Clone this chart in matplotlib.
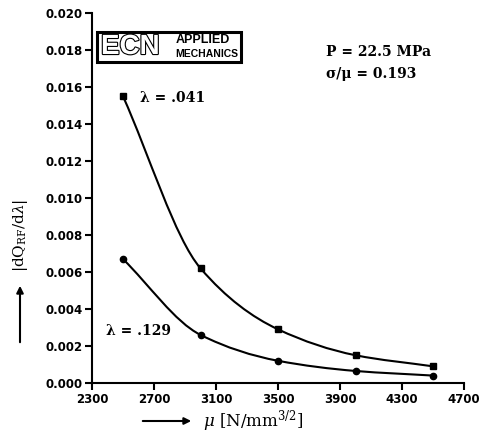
import numpy as np
import matplotlib
matplotlib.use("Agg")
import matplotlib.pyplot as plt
from matplotlib.path import Path
from matplotlib.patches import PathPatch, Rectangle, FancyArrowPatch
import matplotlib.patheffects as pe

# values
mu = [2500, 3000, 3500, 4000, 4500]
dq_041 = [0.0155, 0.0062, 0.0029, 0.0015, 0.0009]
dq_129 = [0.0067, 0.0026, 0.0012, 0.00065, 0.0004]
xticks = [2300, 2700, 3100, 3500, 3900, 4300, 4700]
yticks = [0.000, 0.002, 0.004, 0.006, 0.008, 0.010, 0.012, 0.014, 0.016, 0.018, 0.020]

plt.rcParams['mathtext.fontset'] = 'dejavuserif'
serif = 'DejaVu Serif'
sans = 'Liberation Sans'


def smooth_path(x, y):
    # monotone cubic (Fritsch-Carlson) drawn as bezier segments
    x = np.asarray(x, float)
    y = np.asarray(y, float)
    h = np.diff(x)
    d = np.diff(y) / h
    m = np.zeros_like(y)
    m[0] = d[0]
    m[-1] = d[-1]
    for i in range(1, len(x) - 1):
        if d[i - 1] * d[i] > 0:
            m[i] = 2.0 / (1.0 / d[i - 1] + 1.0 / d[i])
    verts = [(x[0], y[0])]
    codes = [Path.MOVETO]
    for i in range(len(h)):
        verts += [(x[i] + h[i] / 3, y[i] + m[i] * h[i] / 3),
                  (x[i + 1] - h[i] / 3, y[i + 1] - m[i + 1] * h[i] / 3),
                  (x[i + 1], y[i + 1])]
        codes += [Path.CURVE4] * 3
    return Path(verts, codes)


fig = plt.figure(figsize=(4.88, 4.36), dpi=100)
ax = fig.add_axes([0.1885, 0.1216, 0.7625, 0.8484])

for vals, mk in [(dq_041, 's'), (dq_129, 'o')]:
    ax.add_patch(PathPatch(smooth_path(mu, vals), fill=False, lw=1.5, color='black'))
    ax.plot(mu, vals, ls='none', marker=mk, ms=4.5, color='black')

ax.set_xlim(2300, 4700)
ax.set_ylim(0, 0.020)
ax.set_xticks(xticks)
ax.set_yticks(yticks)
ax.set_xticklabels([str(t) for t in xticks], fontfamily='DejaVu Sans', fontweight='bold', fontsize=8.5)
ax.set_yticklabels(['%.3f' % t for t in yticks], fontfamily='DejaVu Sans', fontweight='bold', fontsize=8.5)
ax.spines['top'].set_visible(False)
ax.spines['right'].set_visible(False)
for s in ['left', 'bottom']:
    ax.spines[s].set_linewidth(1.5)
ax.tick_params(direction='out', length=5, width=1.5, pad=2)

# annotations
ax.text(2610, 0.0154, 'λ = .041', fontfamily=serif, fontweight='bold', fontsize=10, va='center')
ax.text(2390, 0.0028, 'λ = .129', fontfamily=serif, fontweight='bold', fontsize=10, va='center')
ax.text(3810, 0.0179, 'P = 22.5 MPa', fontfamily=serif, fontweight='bold', fontsize=10, va='center')
ax.text(3810, 0.0167, 'σ/μ = 0.193', fontfamily=serif, fontweight='bold', fontsize=10, va='center')

# logo box
fig.patches.append(Rectangle((97 / 488, 1 - 62 / 436), 144 / 488, 30 / 436, transform=fig.transFigure,
                             fill=False, lw=2.2, color='black'))
fig.text(101 / 488, 1 - 47 / 436, 'ECN', fontfamily=sans, fontweight='bold', fontsize=20,
         color='white', va='center', path_effects=[pe.withStroke(linewidth=1.6, foreground='black')])
fig.text(176 / 488, 1 - 40 / 436, 'APPLIED', fontfamily=sans, fontweight='bold', fontsize=9, va='center')
fig.text(175 / 488, 1 - 54 / 436, 'MECHANICS', fontfamily=sans, fontweight='bold', fontsize=7.5,
         va='center')

# axis labels with arrows
fig.text(20 / 488, 1 - 235 / 436, r'$|\mathrm{dQ}_{\mathrm{RF}}/\mathrm{d}\lambda|$', rotation=90,
         fontsize=11, va='center', ha='center')
fig.patches.append(FancyArrowPatch((20 / 488, 1 - 345 / 436), (20 / 488, 1 - 283 / 436),
                   transform=fig.transFigure, arrowstyle='-|>', mutation_scale=10, lw=1.5, color='black'))
fig.text(203 / 488, 1 - 421 / 436, r'$\mu$ [N/mm$^{3/2}$]', fontfamily=serif, fontsize=12, va='center')
fig.patches.append(FancyArrowPatch((140 / 488, 1 - 421 / 436), (194 / 488, 1 - 421 / 436),
                   transform=fig.transFigure, arrowstyle='-|>', mutation_scale=10, lw=1.5, color='black'))

fig.savefig('out.png', dpi=100)
